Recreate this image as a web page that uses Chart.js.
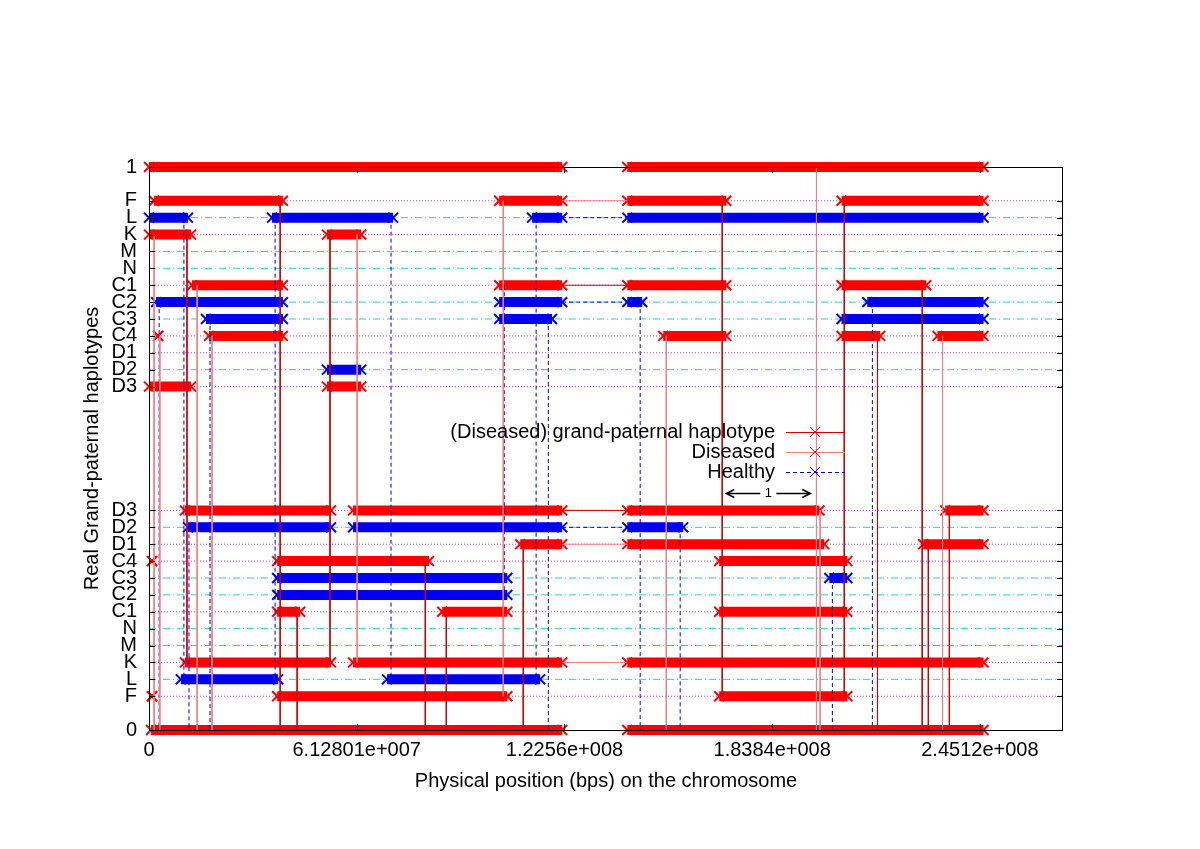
<!DOCTYPE html>
<html>
<head>
<meta charset="utf-8">
<title>Real Grand-paternal haplotypes</title>
<script src="https://cdn.jsdelivr.net/npm/chart.js@4.4.0/dist/chart.umd.min.js"></script>
<style>
  html, body { margin: 0; padding: 0; background: #fff; }
  canvas { display: block; }
</style>
</head>
<body>
<canvas id="chart" width="1200" height="849"></canvas>
<script>
// positions are in Mbp, converted to bps when the datasets are built
const MB = 1e6;
const xMax = 269.63;
const xTickValues = [0, 61.2801, 122.56, 183.84, 245.12];
const xTickLabels = ["0", "6.12801e+007", "1.2256e+008", "1.8384e+008", "2.4512e+008"];

const yLevels = [0, 0.06, 0.09, 0.12, 0.15, 0.18, 0.21, 0.24, 0.27, 0.30, 0.33, 0.36, 0.39,
  0.61, 0.64, 0.67, 0.70, 0.73, 0.76, 0.79, 0.82, 0.85, 0.88, 0.91, 0.94, 1];
const yLabels = ["0", "F", "L", "K", "M", "N", "C1", "C2", "C3", "C4", "D1", "D2", "D3",
  "D3", "D2", "D1", "C4", "C3", "C2", "C1", "N", "M", "K", "L", "F", "1"];
const dottedLabels = ["F", "K", "C1", "C4", "D1", "D3"];

// [level, start, end]
const redRuns = [
  [1, 0, 121.9], [1, 141.1, 246.2],
  [0.94, 1.5, 39.5], [0.94, 103.3, 121.9], [0.94, 141.1, 170.3], [0.94, 204.3, 246.2],
  [0.88, 0, 12.4], [0.88, 52.5, 62.6],
  [0.79, 12.7, 39.5], [0.79, 103.3, 121.9], [0.79, 141.1, 170.3], [0.79, 204.3, 229.3],
  [0.70, 2.7, 2.7], [0.70, 17.7, 39.5], [0.70, 151.7, 170.3], [0.70, 204.3, 215.7], [0.70, 232.6, 246.2],
  [0.61, 0, 12.4], [0.61, 52.5, 62.6],
  [0.39, 10.6, 53.7], [0.39, 60.2, 121.9], [0.39, 141.1, 197.8], [0.39, 234.9, 246.2],
  [0.33, 109.5, 121.9], [0.33, 141.1, 199.2], [0.33, 228.4, 246.2],
  [0.30, 0.9, 0.9], [0.30, 37.8, 82.6], [0.30, 168.2, 206.0],
  [0.21, 37.8, 44.6], [0.21, 86.5, 105.7], [0.21, 168.2, 206.0],
  [0.12, 10.6, 53.7], [0.12, 60.2, 121.9], [0.12, 141.1, 246.2],
  [0.06, 0.9, 0.9], [0.06, 37.8, 105.7], [0.06, 168.2, 206.0],
  [0, 0.6, 121.9], [0, 141.1, 246.2]
];
const blueRuns = [
  [0.91, 0, 11.5], [0.91, 36.3, 72.0], [0.91, 113.0, 121.9], [0.91, 141.1, 246.2],
  [0.76, 2.1, 39.5], [0.76, 103.3, 121.9], [0.76, 141.1, 145.5], [0.76, 211.9, 246.2],
  [0.73, 16.8, 39.5], [0.73, 103.3, 118.9], [0.73, 204.3, 246.2],
  [0.64, 52.5, 62.6],
  [0.36, 11.5, 53.7], [0.36, 60.2, 121.9], [0.36, 141.1, 157.6],
  [0.27, 37.8, 105.7], [0.27, 200.7, 206.0],
  [0.24, 37.8, 105.7],
  [0.09, 9.4, 38.1], [0.09, 70.2, 115.4]
];

// switches between haplotypes: [position, from level, to level]
const grandDrops = [
  [11.2, 0.88, 0.12], [38.7, 0.94, 0], [43.7, 0.21, 0], [53.4, 0.88, 0.12],
  [81.5, 0.30, 0], [87.7, 0.21, 0], [110.4, 0.33, 0], [169.1, 0.94, 0.06],
  [205.1, 0.94, 0.06], [214.9, 0.70, 0], [228.1, 0.79, 0], [229.9, 0.33, 0], [236.1, 0.39, 0]
];
const diseasedDrops = [
  [1.5, 0.88, 0], [3.2, 0.70, 0], [14.2, 0.79, 0], [18.6, 0.70, 0], [61.4, 0.88, 0.12],
  [104.5, 0.94, 0.06], [152.6, 0.70, 0], [196.9, 1, 0], [198.0, 0.39, 0], [234.1, 0.70, 0]
];
const healthyDrops = [
  [3.0, 0.76, 0], [10.3, 0.91, 0.09], [11.8, 0.36, 0], [18.0, 0.73, 0], [37.2, 0.91, 0.09],
  [71.4, 0.91, 0.09], [104.8, 0.79, 0.24], [114.2, 0.91, 0.09], [117.8, 0.73, 0],
  [144.9, 0.76, 0], [156.7, 0.36, 0], [201.6, 0.27, 0], [213.4, 0.76, 0]
];
// gaps over the centromere: [level, start, end]
const grandGaps = [[0.79, 121.9, 141.1], [0.39, 121.9, 141.1]];
const diseasedGaps = [[0.94, 121.9, 141.1], [0.33, 121.9, 141.1], [0.12, 121.9, 141.1]];
const healthyGaps = [[0.91, 121.9, 141.1], [0.76, 121.9, 141.1], [0.36, 121.9, 141.1]];

const legendLabels = ["(Diseased) grand-paternal haplotype", "Diseased", "Healthy"];
const legendLineColors = ["#cc0000", "#f08080", "#0000cc"];
const legendMarkerColors = ["#ff0000", "#ff0000", "#0000ff"];
const legendDashes = [[], [], [4, 3]];

const arrowRange = [170.3, 195.1];
const arrowLevel = 0.421;
const arrowLabel = "1";

const FONT = '"Liberation Sans", Arial, sans-serif';

function runData(runs) {
  const out = [];
  runs.forEach(([lvl, x0, x1]) => {
    out.push({ x: x0 * MB, y: lvl }, { x: x1 * MB, y: lvl }, { x: x1 * MB, y: null });
  });
  return out;
}

function dropData(drops) {
  const out = [];
  drops.forEach(([x, y0, y1]) => {
    out.push({ x: x * MB, y: y0 }, { x: x * MB, y: y1 }, { x: x * MB, y: null });
  });
  return out;
}

function gridDatasets() {
  const sets = [];
  yLevels.forEach((lvl, i) => {
    if (lvl === 0 || lvl === 1) return;
    const dotted = dottedLabels.includes(yLabels[i]);
    sets.push({
      data: [{ x: 0, y: lvl }, { x: xMax * MB, y: lvl }],
      showLine: true,
      borderColor: dotted ? "#cc44cc" : "#33cccc",
      borderDash: dotted ? [1, 2] : [7, 3, 1, 3],
      borderWidth: 1,
      pointRadius: 0,
      order: 10,
    });
  });
  return sets;
}

function barDataset(runs, color) {
  return {
    data: runData(runs),
    showLine: true,
    spanGaps: false,
    borderColor: color,
    borderWidth: 10,
    borderCapStyle: "butt",
    pointStyle: "crossRot",
    pointRadius: 7,
    pointBorderWidth: 2,
    pointBorderColor: color,
    pointBackgroundColor: color,
    clip: false,
    order: 5,
  };
}

function linkDataset(data, color, dash) {
  return {
    data,
    showLine: true,
    spanGaps: false,
    borderColor: color,
    borderDash: dash,
    borderWidth: 1,
    pointRadius: 0,
    clip: false,
    order: 1,
  };
}

function drawCross(ctx, x, y, r) {
  ctx.beginPath();
  ctx.moveTo(x - r, y - r); ctx.lineTo(x + r, y + r);
  ctx.moveTo(x - r, y + r); ctx.lineTo(x + r, y - r);
  ctx.stroke();
}

const overlay = {
  id: "overlay",
  afterDatasetsDraw(chart) {
    const { ctx, chartArea: a, scales: { x, y } } = chart;
    ctx.save();
    ctx.strokeStyle = "#000";
    ctx.lineWidth = 1;
    ctx.setLineDash([]);
    ctx.strokeRect(a.left + 0.5, a.top + 0.5, a.right - a.left - 1, a.bottom - a.top);

    ctx.beginPath();
    yLevels.forEach((v) => {
      const py = Math.round(y.getPixelForValue(v)) + 0.5;
      ctx.moveTo(a.left, py); ctx.lineTo(a.left + 6, py);
      ctx.moveTo(a.right - 6, py); ctx.lineTo(a.right, py);
    });
    xTickValues.forEach((v) => {
      const px = Math.round(x.getPixelForValue(v * MB)) + 0.5;
      ctx.moveTo(px, a.bottom); ctx.lineTo(px, a.bottom - 6);
      ctx.moveTo(px, a.top); ctx.lineTo(px, a.top + 6);
    });
    ctx.stroke();

    // key
    ctx.font = "20px " + FONT;
    ctx.textAlign = "right";
    ctx.textBaseline = "middle";
    ctx.fillStyle = "#000";
    legendLabels.forEach((label, i) => {
      const ly = 432 + i * 20;
      ctx.fillText(label, 775, ly);
      ctx.strokeStyle = legendLineColors[i];
      ctx.setLineDash(legendDashes[i]);
      ctx.beginPath();
      ctx.moveTo(786, ly + 0.5); ctx.lineTo(845, ly + 0.5);
      ctx.stroke();
      ctx.setLineDash([]);
      ctx.strokeStyle = legendMarkerColors[i];
      drawCross(ctx, 815, ly, 5);
    });

    // length arrow
    const ax0 = x.getPixelForValue(arrowRange[0] * MB);
    const ax1 = x.getPixelForValue(arrowRange[1] * MB);
    const ay = Math.round(y.getPixelForValue(arrowLevel)) + 0.5;
    const mid = (ax0 + ax1) / 2;
    ctx.strokeStyle = "#000";
    ctx.lineWidth = 1.5;
    ctx.beginPath();
    ctx.moveTo(ax0, ay); ctx.lineTo(mid - 8, ay);
    ctx.moveTo(mid + 8, ay); ctx.lineTo(ax1, ay);
    ctx.moveTo(ax0 + 8, ay - 4); ctx.lineTo(ax0, ay); ctx.lineTo(ax0 + 8, ay + 4);
    ctx.moveTo(ax1 - 8, ay - 4); ctx.lineTo(ax1, ay); ctx.lineTo(ax1 - 8, ay + 4);
    ctx.stroke();
    ctx.font = "13px " + FONT;
    ctx.textAlign = "center";
    ctx.fillText(arrowLabel, mid, ay);
    ctx.restore();
  },
};

Chart.defaults.font.family = FONT;
Chart.defaults.font.size = 20;
Chart.defaults.color = "#000";

new Chart(document.getElementById("chart"), {
  type: "scatter",
  data: {
    datasets: [
      ...gridDatasets(),
      barDataset(redRuns, "#ff0000"),
      barDataset(blueRuns, "#0000f0"),
      linkDataset(dropData(grandDrops).concat(runData(grandGaps)), "#cc0000", []),
      linkDataset(dropData(diseasedDrops).concat(runData(diseasedGaps)), "#f08080", []),
      linkDataset(dropData(healthyDrops).concat(runData(healthyGaps)), "#0000cc", [4, 3]),
    ],
  },
  options: {
    responsive: false,
    animation: false,
    events: [],
    layout: { padding: { left: 0, top: 167, right: 137, bottom: 0 } },
    plugins: { legend: { display: false }, tooltip: { enabled: false } },
    scales: {
      x: {
        type: "linear",
        min: 0,
        max: xMax * MB,
        afterBuildTicks: (s) => { s.ticks = xTickValues.map((v) => ({ value: v * MB })); },
        afterFit: (s) => { s.height = 119; },
        grid: { display: false, drawTicks: false },
        border: { display: false },
        ticks: {
          autoSkip: false, maxRotation: 0, minRotation: 0, padding: 8,
          callback: (v, i) => xTickLabels[i],
        },
        title: {
          display: true,
          text: "Physical position (bps) on the chromosome",
          padding: { top: 0, bottom: 56 },
        },
      },
      y: {
        type: "linear",
        min: 0,
        max: 1,
        afterBuildTicks: (s) => { s.ticks = yLevels.map((v) => ({ value: v })); },
        afterFit: (s) => { s.width = 149; },
        grid: { display: false, drawTicks: false },
        border: { display: false },
        ticks: {
          autoSkip: false, padding: 12,
          callback: (v, i) => yLabels[i],
        },
        title: {
          display: true,
          text: "Real Grand-paternal haplotypes",
          padding: { top: 80, bottom: 0 },
        },
      },
    },
  },
  plugins: [overlay],
});
</script>
</body>
</html>
